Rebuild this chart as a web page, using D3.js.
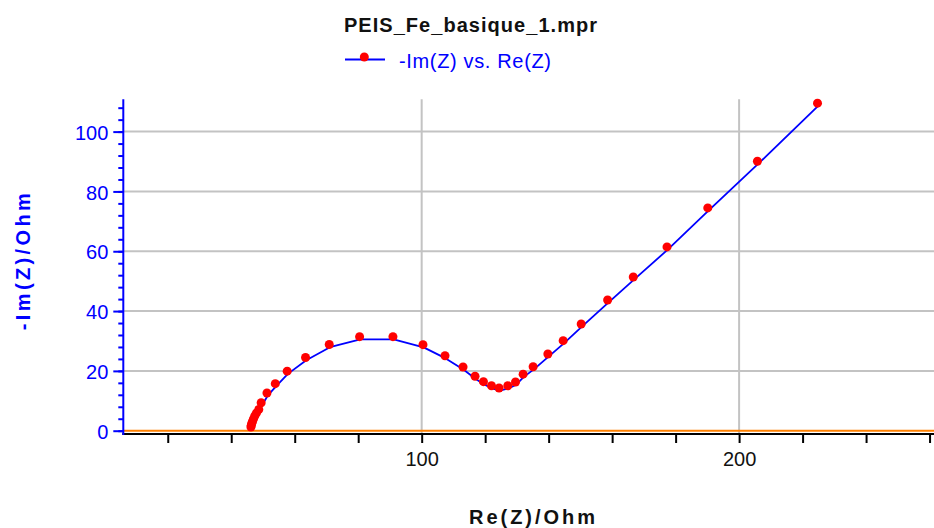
<!DOCTYPE html>
<html>
<head>
<meta charset="utf-8">
<script src="https://cdn.jsdelivr.net/npm/d3@7"></script>
<style>
  html, body { margin: 0; padding: 0; background: #fff; }
  svg { display: block; }
  text { font-family: "Liberation Sans", Arial, sans-serif; }
</style>
</head>
<body>
<svg id="chart" width="934" height="528"></svg>
<script>
// Nyquist data: Re(Z) and -Im(Z) in Ohm
const reZ = [46.21, 46.31, 46.47, 46.69, 47.0, 47.41, 47.95, 48.68, 49.43, 51.26, 53.88,
  57.63, 63.41, 70.88, 80.44, 90.95, 100.41, 107.35, 113.03, 116.81, 119.46, 121.99,
  124.38, 127.13, 129.56, 131.96, 135.11, 139.75, 144.57, 150.25, 158.58, 166.66,
  177.29, 190.13, 205.77, 224.70];
const negImZ = [1.24, 1.74, 2.41, 3.08, 3.91, 4.92, 5.92, 7.09, 9.33, 12.61, 15.72,
  19.90, 24.48, 28.83, 31.44, 31.44, 28.76, 25.08, 21.30, 18.19, 16.39, 15.05,
  14.28, 15.05, 16.29, 18.90, 21.40, 25.65, 30.10, 35.69, 43.71, 51.40,
  61.44, 74.48, 90.10, 109.50];

const xDomain = [6, 261.4];
const yDomain = [-1.1, 110.8];
const xMinorTicks = d3.range(20, 261, 20);
const xLabelTicks = [100, 200];
const yMajorTicks = [0, 20, 40, 60, 80, 100];
const yMinorTicks = d3.range(0, 110, 4);
const xGrid = [100, 200];
const yGrid = [20, 40, 60, 80, 100];

const title = "PEIS_Fe_basique_1.mpr";
const legendLabel = "-Im(Z) vs. Re(Z)";
const xTitle = "Re(Z)/Ohm";
const yTitle = "-Im(Z)/Ohm";

const points = reZ.map((r, i) => ({ x: r, y: negImZ[i] }));

const svg = d3.select("#chart");
const plotLeft = 123.3, plotRight = 934, plotTop = 99.3, plotBottom = 434;

const x = d3.scaleLinear().domain(xDomain).range([plotLeft, plotRight]);
const y = d3.scaleLinear().domain(yDomain).range([plotBottom, plotTop]);

// grid
const grid = svg.append("g");
grid.selectAll("line.h").data(yGrid).join("line")
  .attr("x1", plotLeft).attr("x2", plotRight)
  .attr("y1", d => y(d)).attr("y2", d => y(d))
  .attr("stroke", "#c3c3c3").attr("stroke-width", 2);
grid.selectAll("line.v").data(xGrid).join("line")
  .attr("x1", d => x(d)).attr("x2", d => x(d))
  .attr("y1", plotTop).attr("y2", plotBottom)
  .attr("stroke", "#c3c3c3").attr("stroke-width", 2);

// zero line
svg.append("line")
  .attr("x1", plotLeft).attr("x2", plotRight)
  .attr("y1", y(0)).attr("y2", y(0))
  .attr("stroke", "#ff8000").attr("stroke-width", 2);

// x axis
const xAxis = d3.axisBottom(x).tickValues(xMinorTicks).tickSize(9).tickSizeOuter(0)
  .tickFormat(d => xLabelTicks.includes(d) ? d : "");
const gx = svg.append("g").attr("transform", `translate(0,${plotBottom})`).call(xAxis);
gx.select(".domain").remove();
gx.selectAll(".tick line").attr("stroke", "#000").attr("stroke-width", 2);
gx.selectAll(".tick text").attr("fill", "#111").attr("font-size", 20)
  .attr("y", 18).attr("dy", "0.71em")
  .attr("font-family", "'Liberation Sans', Arial, sans-serif");
svg.append("line").attr("x1", plotLeft - 1).attr("x2", plotRight)
  .attr("y1", plotBottom).attr("y2", plotBottom)
  .attr("stroke", "#000").attr("stroke-width", 2);

// y axis: minor then major ticks
const gyMinor = svg.append("g").attr("transform", `translate(${plotLeft},0)`)
  .call(d3.axisLeft(y).tickValues(yMinorTicks).tickSize(5).tickSizeOuter(0).tickFormat(""));
gyMinor.select(".domain").remove();
gyMinor.selectAll(".tick line").attr("stroke", "#0000ff").attr("stroke-width", 2);

const gyMajor = svg.append("g").attr("transform", `translate(${plotLeft},0)`)
  .call(d3.axisLeft(y).tickValues(yMajorTicks).tickSize(10).tickSizeOuter(0).tickPadding(5));
gyMajor.select(".domain").remove();
gyMajor.selectAll(".tick line").attr("stroke", "#0000ff").attr("stroke-width", 2);
gyMajor.selectAll(".tick text").attr("fill", "#0000ff").attr("font-size", 20)
  .attr("dy", "0.38em")
  .attr("font-family", "'Liberation Sans', Arial, sans-serif");
svg.append("line").attr("x1", plotLeft).attr("x2", plotLeft)
  .attr("y1", plotTop).attr("y2", plotBottom + 1)
  .attr("stroke", "#0000ff").attr("stroke-width", 2);

// series: connecting line and markers
const line = d3.line().x(d => x(d.x)).y(d => y(d.y));
svg.append("path").datum(points)
  .attr("d", line)
  .attr("transform", "translate(0.7,2.7)")
  .attr("fill", "none").attr("stroke", "#0000ff").attr("stroke-width", 1.8)
  .attr("stroke-linejoin", "round");
svg.append("g").selectAll("circle").data(points).join("circle")
  .attr("cx", d => x(d.x)).attr("cy", d => y(d.y)).attr("r", 4.5)
  .attr("fill", "#ff0000");

// title
svg.append("text").attr("x", 470.5).attr("y", 32)
  .attr("text-anchor", "middle").attr("font-size", 20).attr("font-weight", "bold")
  .attr("fill", "#111").attr("textLength", 253).attr("lengthAdjust", "spacing")
  .text(title);

// legend
svg.append("line").attr("x1", 345).attr("x2", 385).attr("y1", 59.5).attr("y2", 59.5)
  .attr("stroke", "#0000ff").attr("stroke-width", 2);
svg.append("circle").attr("cx", 364.3).attr("cy", 57).attr("r", 4.5).attr("fill", "#ff0000");
svg.append("text").attr("x", 399).attr("y", 68)
  .attr("font-size", 20).attr("fill", "#0000ff")
  .attr("textLength", 152).attr("lengthAdjust", "spacing")
  .text(legendLabel);

// axis titles
svg.append("text").attr("x", 532).attr("y", 524)
  .attr("text-anchor", "middle").attr("font-size", 20).attr("font-weight", "bold")
  .attr("fill", "#111").attr("textLength", 126).attr("lengthAdjust", "spacing")
  .text(xTitle);
svg.append("text")
  .attr("transform", "translate(29.5,261.7) rotate(-90)")
  .attr("text-anchor", "middle").attr("font-size", 20).attr("font-weight", "bold")
  .attr("fill", "#0000ff").attr("textLength", 137).attr("lengthAdjust", "spacing")
  .text(yTitle);
</script>
</body>
</html>
